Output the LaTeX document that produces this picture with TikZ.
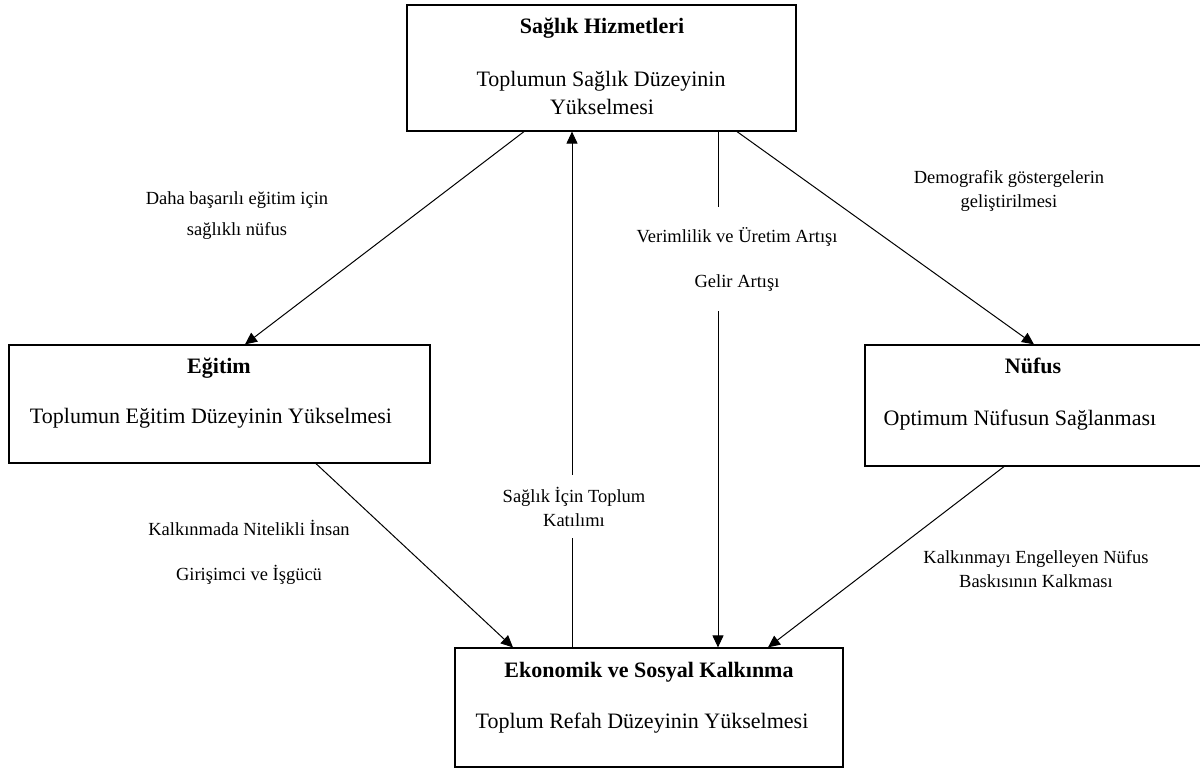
\documentclass[tikz,border=0pt]{standalone}
\usepackage{fontspec}
\setmainfont{Liberation Serif}
\usetikzlibrary{arrows.meta}

\newcommand{\boxfont}{\fontsize{22}{26}\selectfont}
\newcommand{\lblfont}{\fontsize{18.5}{24}\selectfont}

\begin{document}
\begin{tikzpicture}[x=1pt,y=-1pt]
    \tikzstyle{every node}+=[inner sep=0pt]
    \tikzstyle{box}=[draw=black, line width=1.2pt, rectangle]
    \tikzstyle{head}=[font=\boxfont\bfseries, anchor=base]
    \tikzstyle{body}=[font=\boxfont, anchor=base]
    \tikzstyle{lbl}=[font=\lblfont, align=center]
    \tikzstyle{link}=[draw=black, line width=1pt, -{Triangle[length=12pt,width=11pt]}]
    \useasboundingbox (0,0) rectangle (1200,769);
    \fill [white] (0,0) rectangle (1200,769);
    % boxes
    \node [box, minimum width=389pt, minimum height=126pt] (sh) at (601.5,68) {};
    \node [box, minimum width=421pt, minimum height=118pt] (eg) at (219.5,404) {};
    \node [box, minimum width=338pt, minimum height=121pt] (nf) at (1034,405.5) {};
    \node [box, minimum width=388pt, minimum height=119pt] (ek) at (649,707.5) {};
    % box texts
    \node [head] (shT) at (602,33) {Sağlık Hizmetleri};
    \node [body] (shB1) at (601,86) {Toplumun Sağlık Düzeyinin};
    \node [body] (shB2) at (602,114) {Yükselmesi};
    \node [head] (egT) at (219,373) {Eğitim};
    \node [body] (egB) at (211,423) {Toplumun Eğitim Düzeyinin Yükselmesi};
    \node [head] (nfT) at (1033,373) {Nüfus};
    \node [body] (nfB) at (1020,425) {Optimum Nüfusun Sağlanması};
    \node [head] (ekT) at (649,677) {Ekonomik ve Sosyal Kalkınma};
    \node [body] (ekB) at (642,728) {Toplum Refah Düzeyinin Yükselmesi};
    % free labels
    \node [lbl] (lblA) at (237,216) {Daha başarılı eğitim için\\[7pt]sağlıklı nüfus};
    \node [lbl] (lblB) at (1009,191) {Demografik göstergelerin\\geliştirilmesi};
    \node [lbl] (lblE) at (249,552) {Kalkınmada Nitelikli İnsan\\[21pt]Girişimci ve İşgücü};
    \node [lbl] (lblF) at (1036,569) {Kalkınmayı Engelleyen Nüfus\\Baskısının Kalkması};
    % connectors
    \draw [link] ([xshift=-77.5pt]sh.south) -- ([xshift=25.5pt]eg.north);
    \draw [link] ([xshift=96.5pt]eg.south) -- ([xshift=-136pt]ek.north);
    \draw [link] ([xshift=-77pt]ek.north) -- node [lbl, fill=white, inner ysep=12pt, pos=0.273, xshift=2pt] (lblC) {Sağlık İçin Toplum\\Katılımı} ([xshift=-29.5pt]sh.south);
    \draw [link] ([xshift=116.5pt]sh.south) -- node [lbl, fill=white, inner ysep=20pt, pos=0.2476, xshift=19pt] (lblD) {Verimlilik ve Üretim Artışı\\[21pt]Gelir Artışı} ([xshift=69pt]ek.north);
    \draw [link] ([xshift=135.5pt]sh.south) -- (nf.north);
    \draw [link] ([xshift=-30pt]nf.south) -- ([xshift=119pt]ek.north);
\end{tikzpicture}
\end{document}
